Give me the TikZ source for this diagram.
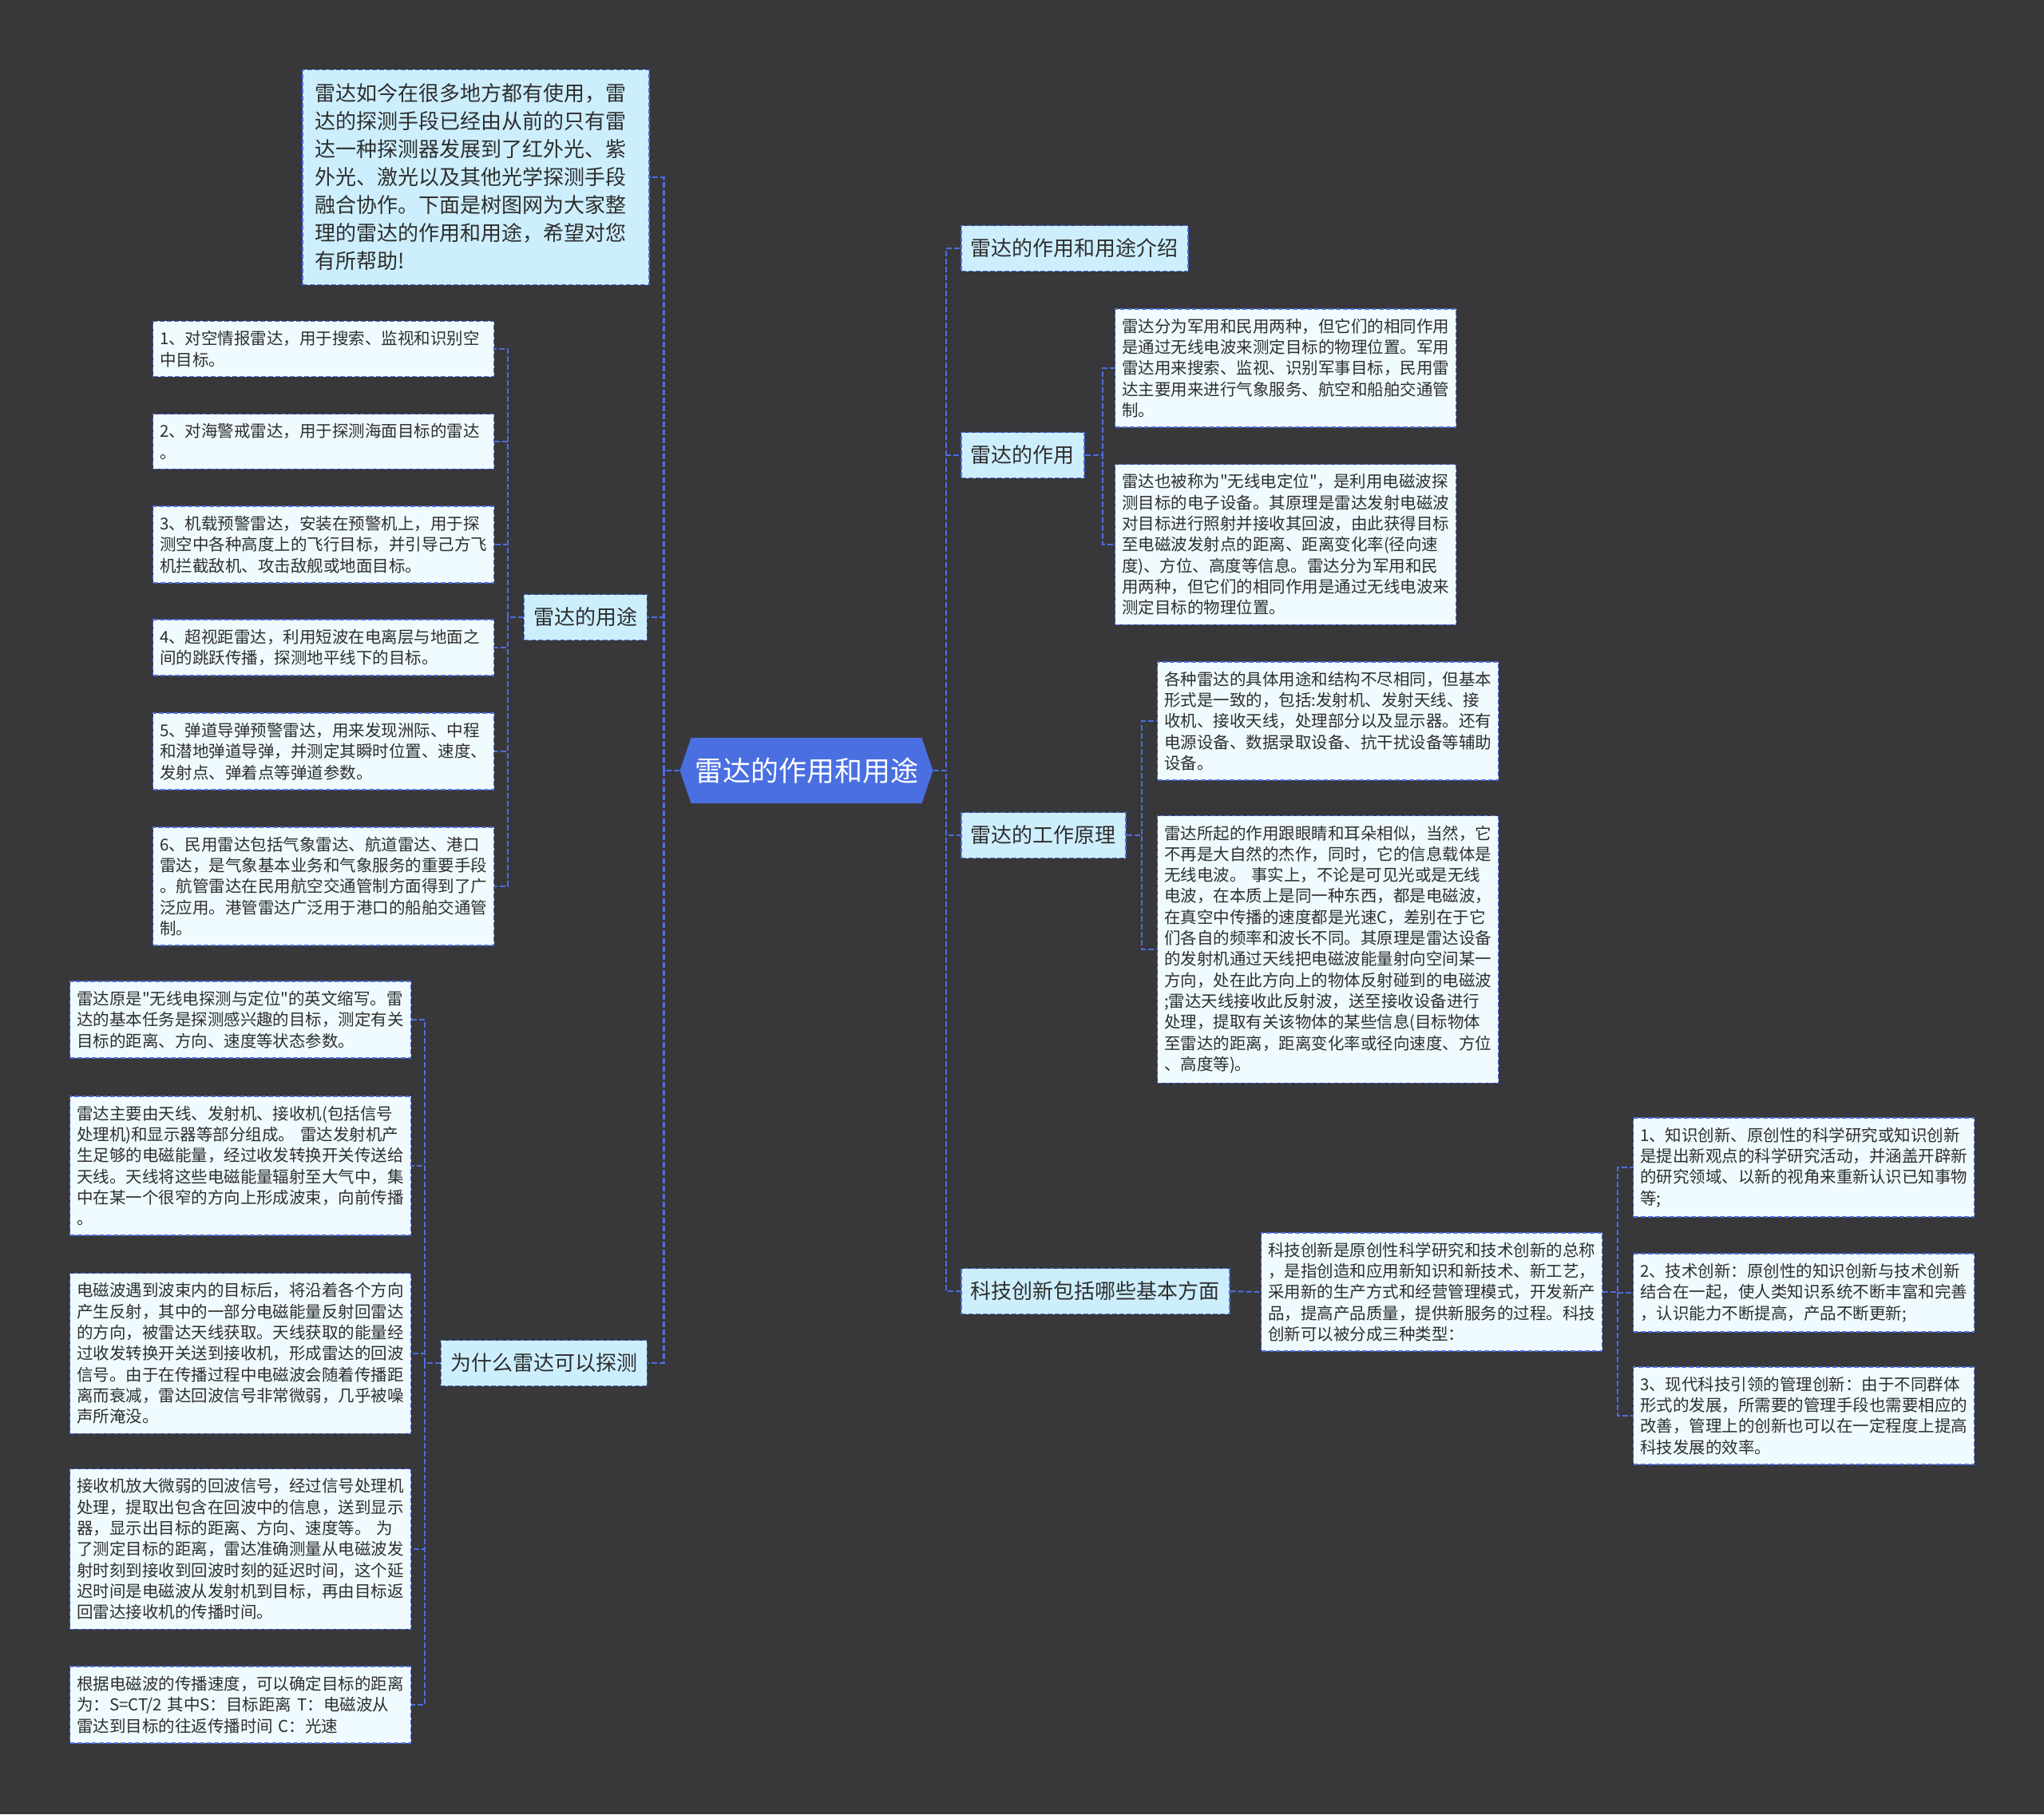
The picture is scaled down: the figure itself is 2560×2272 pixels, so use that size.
\documentclass[tikz,border=0pt]{standalone}
\usepackage{fontspec}
\setmainfont{Noto Sans CJK SC}[Ligatures=TeXOff]
\usepackage{xcolor}
\usepackage{tikz}
\usetikzlibrary{positioning}

\definecolor{bgdark}{HTML}{38373A}
\definecolor{lineblue}{HTML}{4C6EE0}
\definecolor{rootblue}{HTML}{4A6FE0}
\definecolor{branchfill}{HTML}{CDEFFD}
\definecolor{leaffill}{HTML}{F0FBFF}
\definecolor{textdark}{HTML}{2E2E2E}

\newcommand{\rootfont}{\fontsize{17.5pt}{21pt}\selectfont}
\newcommand{\branchfont}{\fontsize{13pt}{16pt}\selectfont}
\newcommand{\introfont}{\fontsize{13pt}{17.5pt}\selectfont}
\newcommand{\leaffont}{\fontsize{10.25pt}{13.15pt}\selectfont}

\begin{document}
\begin{tikzpicture}[
    x=0.5pt, y=-0.5pt,
    box/.style={draw=lineblue, line width=0.75pt, dash pattern=on 3pt off 1.5pt, text=textdark},
    root/.style={minimum width=158.5pt, minimum height=41pt, inner sep=0pt, fill=bgdark, text=white, font=\rootfont,
        path picture={\fill[rootblue] ([xshift=7pt]path picture bounding box.north west) -- ([xshift=-7pt]path picture bounding box.north east)
            -- (path picture bounding box.east) -- ([xshift=-7pt]path picture bounding box.south east)
            -- ([xshift=7pt]path picture bounding box.south west) -- (path picture bounding box.west) -- cycle;}},
    branch/.style={box, fill=branchfill, font=\branchfont, inner xsep=6pt, minimum height=28.5pt},
    intro/.style={box, fill=branchfill, font=\introfont, align=left, text width=202pt, inner xsep=7.5pt, inner ysep=8.75pt},
    leaf/.style={box, fill=leaffill, font=\leaffont, align=left, text width=205pt, inner xsep=4.25pt, inner ysep=6pt},
    trunk/.style={draw=lineblue, line width=1.4pt, dash pattern=on 3.5pt off 1.5pt},
    link/.style={draw=lineblue, line width=1pt, dash pattern=on 3.5pt off 1.5pt}
]
\fill[bgdark] (0,0) rectangle (2560,2272);
\useasboundingbox (0,0) rectangle (2560,2272);

\node[root] (root) at (1010,965) {雷达的作用和用途};

% left side
\node[intro] (intro) at (596,222) {雷达如今在很多地方都有使用，雷\\达的探测手段已经由从前的只有雷\\达一种探测器发展到了红外光、紫\\外光、激光以及其他光学探测手段\\融合协作。下面是树图网为大家整\\理的雷达的作用和用途，希望对您\\有所帮助!};

\node[branch, anchor=east] (uses) at (811,773) {雷达的用途};
\node[leaf] (use1) at (405,437) {1、对空情报雷达，用于搜索、监视和识别空\\中目标。};
\node[leaf] (use2) at (405,553) {2、对海警戒雷达，用于探测海面目标的雷达\\。};
\node[leaf] (use3) at (405,682) {3、机载预警雷达，安装在预警机上，用于探\\测空中各种高度上的飞行目标，并引导己方飞\\机拦截敌机、攻击敌舰或地面目标。};
\node[leaf] (use4) at (405,811) {4、超视距雷达，利用短波在电离层与地面之\\间的跳跃传播，探测地平线下的目标。};
\node[leaf] (use5) at (405,941) {5、弹道导弹预警雷达，用来发现洲际、中程\\和潜地弹道导弹，并测定其瞬时位置、速度、\\发射点、弹着点等弹道参数。};
\node[leaf] (use6) at (405,1110) {6、民用雷达包括气象雷达、航道雷达、港口\\雷达，是气象基本业务和气象服务的重要手段\\。航管雷达在民用航空交通管制方面得到了广\\泛应用。港管雷达广泛用于港口的船舶交通管\\制。};

\node[branch, anchor=east] (why) at (811,1707) {为什么雷达可以探测};
\node[leaf] (why1) at (301,1277) {雷达原是"无线电探测与定位"的英文缩写。雷\\达的基本任务是探测感兴趣的目标，测定有关\\目标的距离、方向、速度等状态参数。};
\node[leaf] (why2) at (301,1460) {雷达主要由天线、发射机、接收机(包括信号\\处理机)和显示器等部分组成。 雷达发射机产\\生足够的电磁能量，经过收发转换开关传送给\\天线。天线将这些电磁能量辐射至大气中，集\\中在某一个很窄的方向上形成波束，向前传播\\。};
\node[leaf] (why3) at (301,1695) {电磁波遇到波束内的目标后，将沿着各个方向\\产生反射，其中的一部分电磁能量反射回雷达\\的方向，被雷达天线获取。天线获取的能量经\\过收发转换开关送到接收机，形成雷达的回波\\信号。由于在传播过程中电磁波会随着传播距\\离而衰减，雷达回波信号非常微弱，几乎被噪\\声所淹没。};
\node[leaf] (why4) at (301,1940) {接收机放大微弱的回波信号，经过信号处理机\\处理，提取出包含在回波中的信息，送到显示\\器，显示出目标的距离、方向、速度等。 为\\了测定目标的距离，雷达准确测量从电磁波发\\射时刻到接收到回波时刻的延迟时间，这个延\\迟时间是电磁波从发射机到目标，再由目标返\\回雷达接收机的传播时间。};
\node[leaf] (why5) at (301,2135) {根据电磁波的传播速度，可以确定目标的距离\\为：S=CT/2 其中S：目标距离 T：电磁波从\\雷达到目标的往返传播时间 C：光速};

% right side
\node[branch, anchor=west] (overview) at (1203,311) {雷达的作用和用途介绍};

\node[branch, anchor=west] (role) at (1203,570) {雷达的作用};
\node[leaf] (role1) at (1610,461) {雷达分为军用和民用两种，但它们的相同作用\\是通过无线电波来测定目标的物理位置。军用\\雷达用来搜索、监视、识别军事目标，民用雷\\达主要用来进行气象服务、航空和船舶交通管\\制。};
\node[leaf] (role2) at (1610,682) {雷达也被称为"无线电定位"，是利用电磁波探\\测目标的电子设备。其原理是雷达发射电磁波\\对目标进行照射并接收其回波，由此获得目标\\至电磁波发射点的距离、距离变化率(径向速\\度)、方位、高度等信息。雷达分为军用和民\\用两种，但它们的相同作用是通过无线电波来\\测定目标的物理位置。};

\node[branch, anchor=west] (principle) at (1203,1046) {雷达的工作原理};
\node[leaf] (prin1) at (1663,903) {各种雷达的具体用途和结构不尽相同，但基本\\形式是一致的，包括:发射机、发射天线、接\\收机、接收天线，处理部分以及显示器。还有\\电源设备、数据录取设备、抗干扰设备等辅助\\设备。};
\node[leaf] (prin2) at (1663,1189) {雷达所起的作用跟眼睛和耳朵相似，当然，它\\不再是大自然的杰作，同时，它的信息载体是\\无线电波。 事实上，不论是可见光或是无线\\电波，在本质上是同一种东西，都是电磁波，\\在真空中传播的速度都是光速C，差别在于它\\们各自的频率和波长不同。其原理是雷达设备\\的发射机通过天线把电磁波能量射向空间某一\\方向，处在此方向上的物体反射碰到的电磁波\\;雷达天线接收此反射波，送至接收设备进行\\处理，提取有关该物体的某些信息(目标物体\\至雷达的距离，距离变化率或径向速度、方位\\、高度等)。};

\node[branch, anchor=west] (innov) at (1203,1617) {科技创新包括哪些基本方面};
\node[leaf] (innovdef) at (1793,1618) {科技创新是原创性科学研究和技术创新的总称\\，是指创造和应用新知识和新技术、新工艺，\\采用新的生产方式和经营管理模式，开发新产\\品，提高产品质量，提供新服务的过程。科技\\创新可以被分成三种类型：};
\node[leaf] (type1) at (2259,1462) {1、知识创新、原创性的科学研究或知识创新\\是提出新观点的科学研究活动，并涵盖开辟新\\的研究领域、以新的视角来重新认识已知事物\\等;};
\node[leaf] (type2) at (2259,1619) {2、技术创新：原创性的知识创新与技术创新\\结合在一起，使人类知识系统不断丰富和完善\\，认识能力不断提高，产品不断更新;};
\node[leaf] (type3) at (2259,1773) {3、现代科技引领的管理创新：由于不同群体\\形式的发展，所需要的管理手段也需要相应的\\改善，管理上的创新也可以在一定程度上提高\\科技发展的效率。};

% connectors
\draw[trunk] (root.west) -- ++(-20,0) |- (intro.east);
\draw[trunk] (root.west) -- ++(-20,0) |- (uses.east);
\draw[trunk] (root.west) -- ++(-20,0) |- (why.east);
\draw[trunk] (root.east) -- ++(16,0) |- (overview.west);
\draw[trunk] (root.east) -- ++(16,0) |- (role.west);
\draw[trunk] (root.east) -- ++(16,0) |- (principle.west);
\draw[trunk] (root.east) -- ++(16,0) |- (innov.west);

\draw[link] (uses.west) -- ++(-20,0) |- (use1.east);
\draw[link] (uses.west) -- ++(-20,0) |- (use2.east);
\draw[link] (uses.west) -- ++(-20,0) |- (use3.east);
\draw[link] (uses.west) -- ++(-20,0) |- (use4.east);
\draw[link] (uses.west) -- ++(-20,0) |- (use5.east);
\draw[link] (uses.west) -- ++(-20,0) |- (use6.east);

\draw[link] (why.west) -- ++(-20,0) |- (why1.east);
\draw[link] (why.west) -- ++(-20,0) |- (why2.east);
\draw[link] (why.west) -- ++(-20,0) |- (why3.east);
\draw[link] (why.west) -- ++(-20,0) |- (why4.east);
\draw[link] (why.west) -- ++(-20,0) |- (why5.east);

\draw[link] (role.east) -- ++(22,0) |- (role1.west);
\draw[link] (role.east) -- ++(22,0) |- (role2.west);
\draw[link] (principle.east) -- ++(19,0) |- (prin1.west);
\draw[link] (principle.east) -- ++(19,0) |- (prin2.west);
\draw[link] (innov.east) -- (innovdef.west);
\draw[link] (innovdef.east) -- ++(19,0) |- (type1.west);
\draw[link] (innovdef.east) -- ++(19,0) |- (type2.west);
\draw[link] (innovdef.east) -- ++(19,0) |- (type3.west);
\end{tikzpicture}
\end{document}
